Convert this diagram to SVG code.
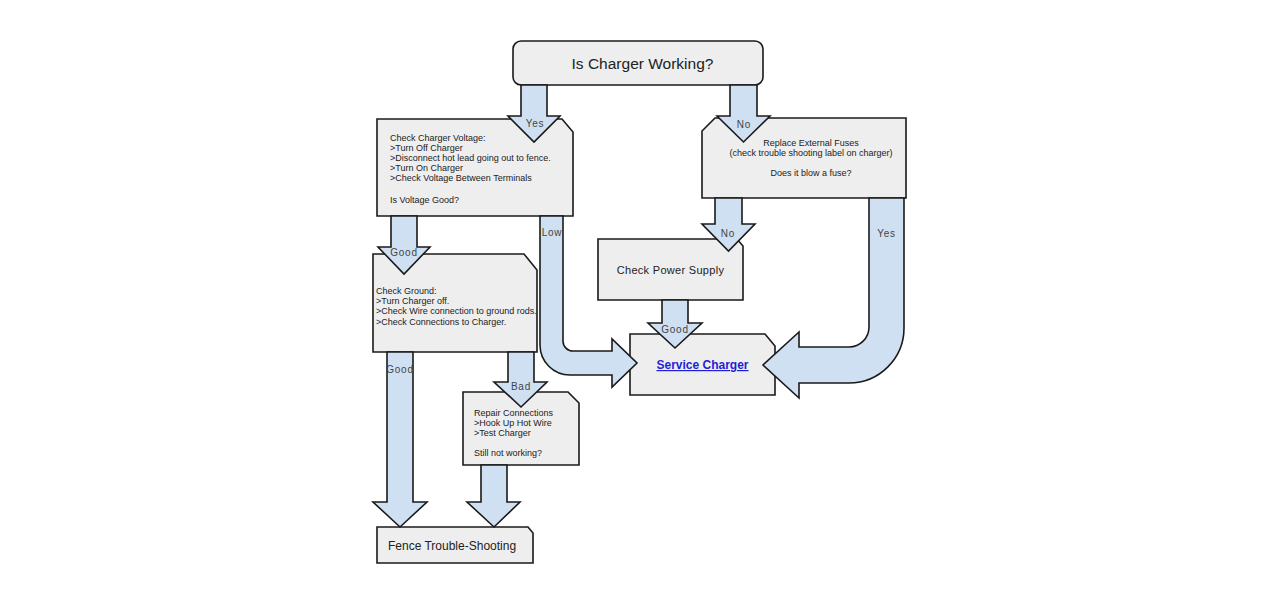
<svg xmlns="http://www.w3.org/2000/svg" width="1280" height="600" viewBox="0 0 1280 600">
<style>
.box{fill:#eeeeee;stroke:#1a1a1a;stroke-width:1.6;stroke-linejoin:miter}
.arr{fill:#cfe0f2;stroke:#1a1a1a;stroke-width:1.6;stroke-linejoin:miter}
.t{font-family:"Liberation Sans",Arial,sans-serif;fill:#222}
.s{font-size:9px}
.lbl{font-family:"Liberation Sans",Arial,sans-serif;font-size:10px;fill:#444;text-anchor:middle;letter-spacing:0.8px}
</style>
<rect width="1280" height="600" fill="#ffffff"/>

<g id="node-start">
<rect class="box" x="513" y="41" width="250" height="44" rx="8"/>
<text class="t" x="642.5" y="68.5" font-size="15.5" text-anchor="middle">Is Charger Working?</text>
</g>

<g id="node-voltage">
<path class="box" d="M377,119 L562,119 L573,132 L573,216 L377,216 Z"/>
<text class="t s" x="390" y="141">Check Charger Voltage:</text>
<text class="t s" x="390" y="151">&gt;Turn Off Charger</text>
<text class="t s" x="390" y="161">&gt;Disconnect hot lead going out to fence.</text>
<text class="t s" x="390" y="171">&gt;Turn On Charger</text>
<text class="t s" x="390" y="181">&gt;Check  Voltage Between Terminals</text>
<text class="t s" x="390" y="203">Is Voltage Good?</text>
</g>

<g id="node-fuses">
<path class="box" d="M715,118 L906,118 L906,198 L702,198 L702,131 Z"/>
<text class="t s" x="811" y="146" text-anchor="middle">Replace External Fuses</text>
<text class="t s" x="811" y="156" text-anchor="middle">(check trouble shooting label on charger)</text>
<text class="t s" x="811" y="176" text-anchor="middle">Does it blow a fuse?</text>
</g>

<g id="node-power">
<path class="box" d="M598,239 L737,239 L743,246 L743,300 L598,300 Z"/>
<text class="t" x="670.5" y="274" font-size="11" text-anchor="middle" letter-spacing="0.3">Check Power Supply</text>
</g>

<g id="node-service">
<path class="box" d="M630,334 L765,334 L775,346 L775,395 L630,395 Z"/>
<text x="702.5" y="369" font-family="'Liberation Sans',Arial,sans-serif" font-size="12" font-weight="bold" fill="#1f1fd8" text-anchor="middle" text-decoration="underline">Service Charger</text>
</g>

<g id="node-ground">
<path class="box" d="M373,254 L524,254 L537,270 L537,352 L373,352 Z"/>
<text class="t s" x="376" y="294">Check Ground:</text>
<text class="t s" x="376" y="304">&gt;Turn Charger off.</text>
<text class="t s" x="376" y="314">&gt;Check Wire connection to ground rods.</text>
<text class="t s" x="376" y="325">&gt;Check Connections to Charger.</text>
</g>

<g id="node-repair">
<path class="box" d="M463,392 L568,392 L579,403 L579,465 L463,465 Z"/>
<text class="t s" x="474" y="416">Repair Connections</text>
<text class="t s" x="474" y="426">&gt;Hook Up Hot Wire</text>
<text class="t s" x="474" y="436">&gt;Test Charger</text>
<text class="t s" x="474" y="456">Still not working?</text>
</g>

<g id="node-fence">
<path class="box" d="M377,527 L528,527 L533,533 L533,563 L377,563 Z"/>
<text class="t" x="388" y="549.5" font-size="12">Fence Trouble-Shooting</text>
</g>

<g id="connectors">
<path class="arr" d="M521,85 L547,85 L547,116 L560,116 L534,142 L508,116 L521,116 Z"/>
<text class="lbl" x="535" y="127">Yes</text>

<path class="arr" d="M730,85 L757,85 L757,116 L770,116 L743.5,142 L717,116 L730,116 Z"/>
<text class="lbl" x="744" y="128">No</text>

<path class="arr" d="M715,198 L742,198 L742,224 L755,224 L728.5,251 L702,224 L715,224 Z"/>
<text class="lbl" x="728" y="237">No</text>

<path class="arr" d="M869,198 L904,198 L904,328 A55,55 0 0 1 849,383 L799,383 L799,398 L763,365 L799,332 L799,347 L849,347 A20,20 0 0 0 869,327 Z"/>
<text class="lbl" x="886.5" y="237">Yes</text>

<path class="arr" d="M662,300 L688,300 L688,323 L702,323 L675,348 L648,323 L662,323 Z"/>
<text class="lbl" x="675" y="333">Good</text>

<path class="arr" d="M540,216 L563,216 L563,341 A10,10 0 0 0 573,351 L612,351 L612,339 L637,363 L612,387 L612,375 L570,375 A30,30 0 0 1 540,345 Z"/>
<text class="lbl" x="552" y="236">Low</text>

<path class="arr" d="M391,216 L417,216 L417,247 L430,247 L404,274 L378,247 L391,247 Z"/>
<text class="lbl" x="404" y="256">Good</text>

<path class="arr" d="M387,352 L413,352 L413,502 L427,502 L400,527 L373,502 L387,502 Z"/>
<text class="lbl" x="400" y="373">Good</text>

<path class="arr" d="M508,352 L534,352 L534,382 L547,382 L521,407 L494,382 L508,382 Z"/>
<text class="lbl" x="521" y="390">Bad</text>

<path class="arr" d="M481,465 L507,465 L507,502 L520,502 L494,527 L467,502 L481,502 Z"/>
</g>
</svg>
